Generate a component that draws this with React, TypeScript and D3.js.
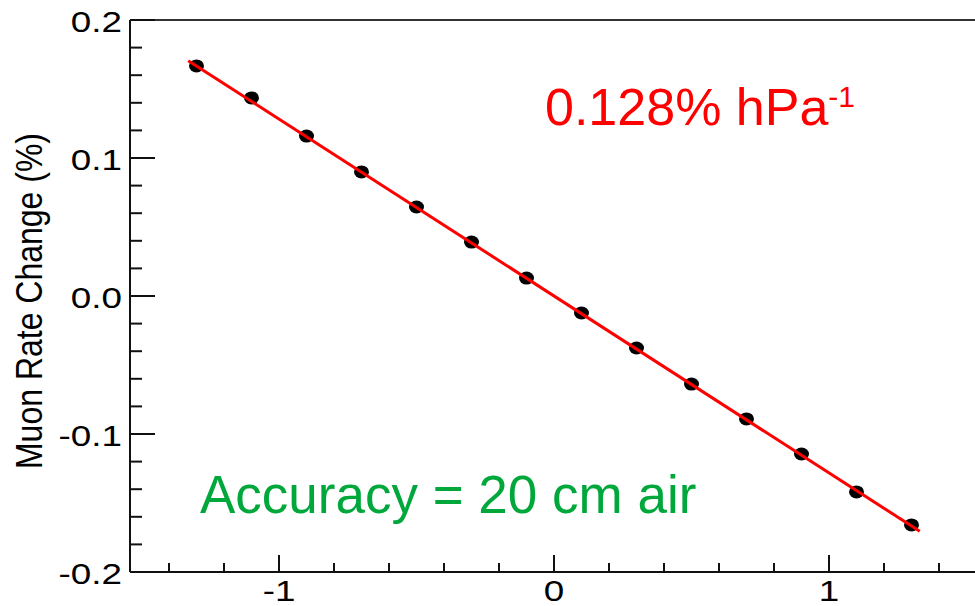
import React from "react";
import * as d3 from "d3";

const pressureDelta = [-1.3, -1.1, -0.9, -0.7, -0.5, -0.3, -0.1, 0.1, 0.3, 0.5, 0.7, 0.9, 1.1, 1.3];
const rateChange = [0.1667, 0.1435, 0.1159, 0.0899, 0.0645, 0.0391, 0.013, -0.0123, -0.0377, -0.0638, -0.0891, -0.1145, -0.142, -0.1659];
const fitX = [-1.33, 1.33];
const fitY = [0.1705, -0.1705];
const yMajorTicks = [0.2, 0.1, 0.0, -0.1, -0.2];
const yTickLabels = ["0.2", "0.1", "0.0", "-0.1", "-0.2"];
const xMajorTicks = [-1, 0, 1];
const xTickLabels = ["-1", "0", "1"];
const slopeText = "0.128% hPa";
const slopeExp = "-1";
const accuracyText = "Accuracy = 20 cm air";
const yTitle = "Muon Rate Change (%)";

const W = 975;
const H = 606;
const FONT = "'Liberation Sans', Arial, Helvetica, sans-serif";

export default function App() {
  const x = d3.scaleLinear().domain([-1, 1]).range([279, 829]);
  const y = d3.scaleLinear().domain([-0.2, 0.2]).range([572, 20]);
  const left = x(-1.5418);
  const right = W + 2;
  const top = y(0.2);
  const bottom = y(-0.2);

  const yMinor = d3.range(-10, 11).map((i) => i * 0.02).filter((v) => Math.abs(Math.round(v * 50) % 5) !== 0);
  const xMinor = d3.range(-7, 8).map((i) => i * 0.2).filter((v) => Math.abs(Math.round(v * 5) % 5) !== 0);

  const line = d3.line<number>().x((d, i) => x(fitX[i])).y((d) => y(d));

  return (
    <svg width={W} height={H} style={{ position: "absolute", left: 0, top: 0, background: "#fff" }} fontFamily={FONT}>
      <rect x={0} y={0} width={W} height={H} fill="#fff" />
      {/* frame */}
      <line x1={left} x2={right} y1={top} y2={top} stroke="#333" strokeWidth={2} />
      <line x1={left} x2={left} y1={top} y2={bottom} stroke="#111" strokeWidth={2} />
      <line x1={left} x2={right} y1={bottom} y2={bottom} stroke="#111" strokeWidth={2} />
      {/* y ticks */}
      {yMajorTicks.map((v) => (
        <line key={"ym" + v} x1={left} x2={left + 25} y1={y(v)} y2={y(v)} stroke="#111" strokeWidth={2} />
      ))}
      {yMinor.map((v) => (
        <line key={"yn" + v} x1={left} x2={left + 12} y1={y(v)} y2={y(v)} stroke="#111" strokeWidth={2} />
      ))}
      {yMajorTicks.map((v, i) => (
        <text key={"yl" + v} transform={`translate(122,${y(v) + 12}) scale(1.27,1)`} textAnchor="end" fontSize={29} fill="#000">
          {yTickLabels[i]}
        </text>
      ))}
      {/* x ticks */}
      {xMajorTicks.map((v) => (
        <line key={"xm" + v} x1={x(v)} x2={x(v)} y1={bottom} y2={bottom - 17} stroke="#111" strokeWidth={2} />
      ))}
      {xMinor.map((v) => (
        <line key={"xn" + v} x1={x(v)} x2={x(v)} y1={bottom} y2={bottom - 9} stroke="#111" strokeWidth={2} />
      ))}
      {xMajorTicks.map((v, i) => (
        <text key={"xl" + v} transform={`translate(${x(v)},601) scale(1.27,1)`} textAnchor="middle" fontSize={29} fill="#000">
          {xTickLabels[i]}
        </text>
      ))}
      {/* y title */}
      <text transform={`translate(42,301) rotate(-90) scale(1,1.18)`} textAnchor="middle" fontSize={32} fill="#000">
        {yTitle}
      </text>
      {/* data points */}
      {pressureDelta.map((d, i) => (
        <ellipse key={"p" + i} cx={x(d)} cy={y(rateChange[i])} rx={7.5} ry={6.5} fill="#000" />
      ))}
      {/* fit line */}
      <path d={line(fitY) || ""} stroke="#ff0000" strokeWidth={3} fill="none" />
      {/* annotations */}
      <text x={545} y={125} fontSize={52} fill="#ff0000">
        <tspan>{slopeText}</tspan>
        <tspan dy={-18} fontSize={30}>{slopeExp}</tspan>
      </text>
      <text x={200} y={513} fontSize={53} fill="#00a83c">
        {accuracyText}
      </text>
    </svg>
  );
}
